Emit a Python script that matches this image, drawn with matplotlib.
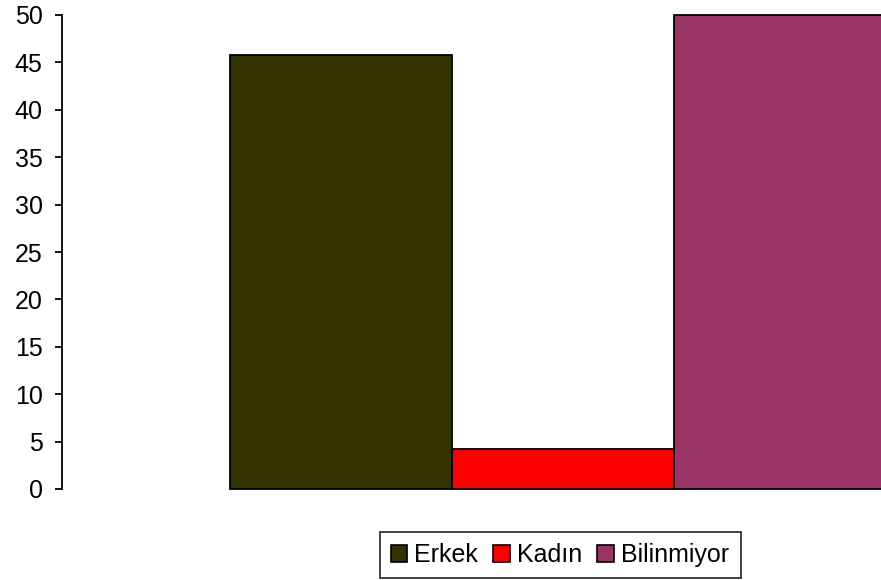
import matplotlib.pyplot as plt
from matplotlib.patches import Patch

categories = ["Erkek", "Kadın", "Bilinmiyor"]
values = [45.8, 4.2, 50.0]
colors = ["#333300", "#ff0000", "#993366"]
yticks = [0, 5, 10, 15, 20, 25, 30, 35, 40, 45, 50]

plt.rcParams["font.family"] = ["Liberation Sans", "DejaVu Sans"]

fig = plt.figure(figsize=(8.81, 5.80), dpi=100)
# plot area runs past the right edge, as in the reference
ax = fig.add_axes([62 / 881, 91 / 580, 1002 / 881, 474 / 580])

width = 0.2216
offsets = [-width, 0.0, width]
for off, val, col in zip(offsets, values, colors):
    ax.bar(off, val, width=width, color=col, edgecolor="black",
           linewidth=1.3, clip_on=False)

ax.set_xlim(-0.5, 0.5)
ax.set_ylim(0, 50)
ax.set_yticks(yticks)
ax.set_xticks([])
for side in ("top", "right", "bottom"):
    ax.spines[side].set_visible(False)
ax.spines["left"].set_linewidth(1.3)
ax.tick_params(axis="y", length=5, width=1.3, pad=9, labelsize=18)

handles = [Patch(facecolor=c, edgecolor="black", linewidth=1.2) for c in colors]
leg = fig.legend(handles, categories, loc="center",
                 bbox_to_anchor=(560 / 881, 25 / 580),
                 ncol=3, fontsize=18, frameon=True, fancybox=False,
                 edgecolor="black", handlelength=0.65, handleheight=0.65,
                 handletextpad=0.3, columnspacing=0.6, borderpad=0.45)
leg.get_frame().set_linewidth(1.3)

fig.savefig("out.png", dpi=100)
